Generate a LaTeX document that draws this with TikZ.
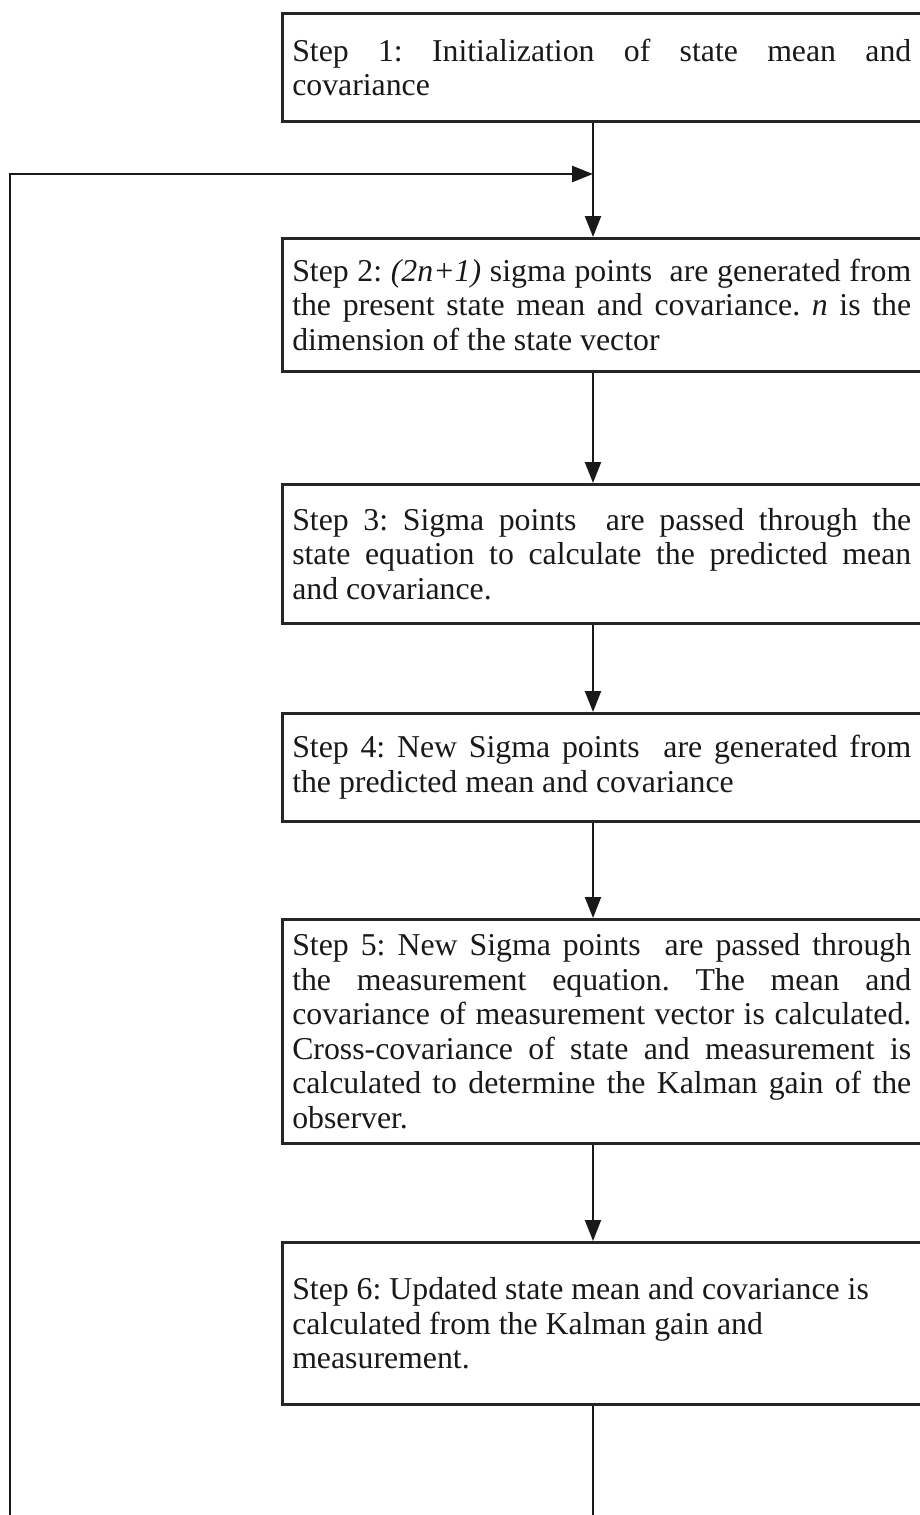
\documentclass[tikz,border=0pt]{standalone}
\usepackage{fontspec}
\setmainfont{Liberation Serif}
\usetikzlibrary{arrows.meta}
\newcommand{\steptext}[1]{\parbox{619pt}{\frenchspacing\hyphenpenalty=10000\tolerance=9999\relax #1}\hspace*{81pt}}
\begin{document}
\begin{tikzpicture}[x=1pt,y=-1pt,
  stepbox/.style={draw=black!85, line width=2.5pt, anchor=north west,
    inner xsep=10pt, inner ysep=0pt, text=black!90,
    font=\fontsize{31.8}{34.5}\selectfont},
  conn/.style={line width=2.2pt, black!90},
  arr/.style={conn, -{Triangle[length=21pt,width=16pt]}}]
\useasboundingbox (0,0) rectangle (919,1515);

\node[stepbox, minimum height=108pt] (s1) at (281,12)
  {\steptext{Step 1: Initialization of state mean and\linebreak covariance}};
\node[stepbox, minimum height=133pt] (s2) at (281,237)
  {\steptext{Step 2: \textit{(2n+1)} sigma points\ \ are generated from\linebreak the present state mean and covariance. \textit{n} is the\linebreak dimension of the state vector}};
\node[stepbox, minimum height=139pt] (s3) at (281,483)
  {\steptext{Step 3: Sigma points\ \ are passed through the\linebreak state equation to calculate the predicted mean\linebreak and covariance.}};
\node[stepbox, minimum height=108pt] (s4) at (281,712)
  {\steptext{Step 4: New Sigma points\ \ are generated from\linebreak the predicted mean and covariance}};
\node[stepbox, minimum height=224pt] (s5) at (281,918)
  {\steptext{Step 5: New Sigma points\ \ are passed through\linebreak the measurement equation. The mean and\linebreak covariance of measurement vector is calculated.\linebreak Cross-covariance of state and measurement is\linebreak calculated to determine the Kalman gain of the\linebreak observer.}};
\node[stepbox, minimum height=162pt] (s6) at (281,1241)
  {\steptext{Step 6: Updated state mean and covariance is\newline calculated from the Kalman gain and\newline measurement.}};

\coordinate (ax) at (593,0);
\coordinate (jn) at (593,174);
\coordinate (lbot) at (10,1525);
\coordinate (bbot) at (593,1525);

\draw[conn] (s1.south -| ax) -- (jn);
\draw[arr] (jn) -- (s2.north -| ax);
\draw[arr, line width=2.6pt] (lbot) |- (jn);
\draw[arr] (s2.south -| ax) -- (s3.north -| ax);
\draw[arr] (s3.south -| ax) -- (s4.north -| ax);
\draw[arr] (s4.south -| ax) -- (s5.north -| ax);
\draw[arr] (s5.south -| ax) -- (s6.north -| ax);
\draw[conn] (s6.south -| ax) -- (bbot);
\end{tikzpicture}
\end{document}
